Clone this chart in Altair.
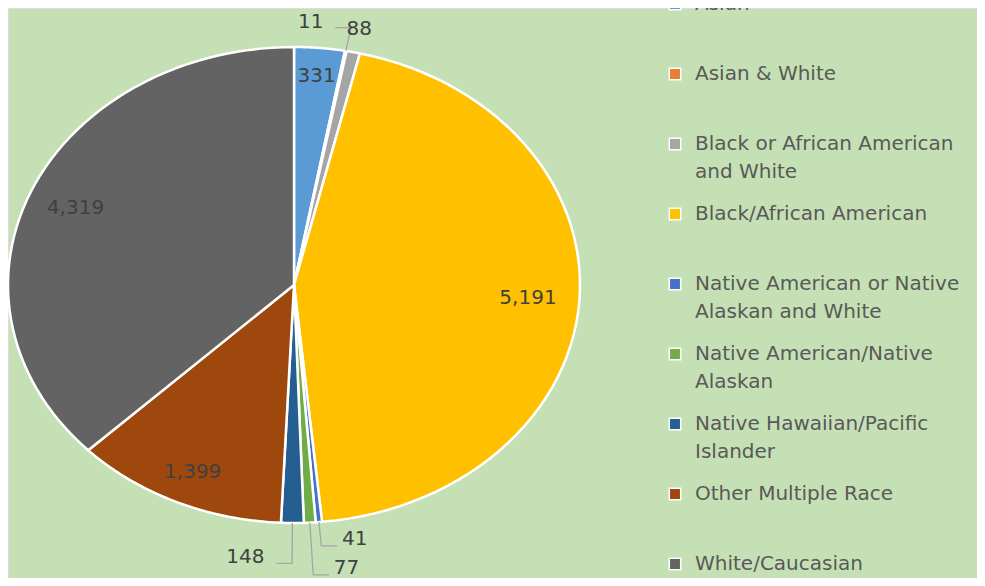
import altair as alt
import pandas as pd

categories = [
    "Asian",
    "Asian & White",
    "Black or African American and White",
    "Black/African American",
    "Native American or Native Alaskan and White",
    "Native American/Native Alaskan",
    "Native Hawaiian/Pacific Islander",
    "Other Multiple Race",
    "White/Caucasian",
]
values = [331, 11, 88, 5191, 41, 77, 148, 1399, 4319]
colors = ["#5B9BD5", "#ED7D31", "#A5A5A5", "#FFC000", "#4472C4",
          "#70AD47", "#255E91", "#9E480E", "#636363"]

# label layout (styling): radius factor, leader direction (0 = none)
label_radius = [0.88, 1.10, 1.10, 0.82, 1.10, 1.22, 1.17, 0.86, 0.83]
leader_dir = [0, -1, 0, 0, 1, 1, -1, 0, 0]

df = pd.DataFrame({
    "category": categories,
    "value": values,
    "idx": list(range(len(categories))),
    "lr": label_radius,
    "dir": leader_dir,
})

BG = "#C5E0B4"
TXT = "#404040"
XS = alt.Scale(domain=[-1, 1], range=[0, 572])
YS = alt.Scale(domain=[-1, 1], range=[515, 39])

base = alt.Chart(df).transform_joinaggregate(
    total="sum(value)"
).transform_window(
    cum="sum(value)", sort=[alt.SortField("idx")], frame=[None, 0]
).transform_calculate(
    a0="2*PI*(datum.cum - datum.value)/datum.total",
    a1="2*PI*datum.cum/datum.total",
    mid="PI*(2*datum.cum - datum.value)/datum.total",
)

legend_labels = (
    "datum.label == 'Black or African American and White' ? ['Black or African American', 'and White'] : "
    "datum.label == 'Native American or Native Alaskan and White' ? ['Native American or Native', 'Alaskan and White'] : "
    "datum.label == 'Native American/Native Alaskan' ? ['Native American/Native', 'Alaskan'] : "
    "datum.label == 'Native Hawaiian/Pacific Islander' ? ['Native Hawaiian/Pacific', 'Islander'] : datum.label"
)

pie = base.transform_calculate(
    k="sequence(0, 62)"
).transform_flatten(["k"]).transform_calculate(
    ang="datum.a0 + (datum.a1 - datum.a0) * min(datum.k, 60) / 60",
    u="datum.k > 60 ? 0 : sin(datum.ang)",
    v="datum.k > 60 ? 0 : cos(datum.ang)",
).mark_line(
    filled=True, interpolate="linear-closed", stroke="white",
    strokeWidth=2.5, strokeJoin="round"
).encode(
    x=alt.X("u:Q", scale=XS, axis=None),
    y=alt.Y("v:Q", scale=YS, axis=None),
    order=alt.Order("k:Q"),
    color=alt.Color(
        "category:N",
        scale=alt.Scale(domain=categories, range=colors),
        sort=categories,
        legend=alt.Legend(
            title=None, orient="none", legendX=657, legendY=-14,
            symbolType="square", symbolSize=130, symbolStrokeColor="white",
            symbolStrokeWidth=1.5, labelFont="DejaVu Sans", labelFontSize=20,
            labelColor="#595959", labelLimit=400, labelExpr=legend_labels,
            gridAlign="all", rowPadding=22, labelOffset=10,
        ),
    ),
)

labels_pos = base.transform_calculate(
    u="datum.lr*sin(datum.mid) + datum.dir*0.065",
    v="datum.lr*cos(datum.mid)",
    lab="format(datum.value, ',')",
)

text_center = labels_pos.transform_filter("datum.dir == 0").mark_text(
    font="DejaVu Sans", fontSize=20, color=TXT, align="center", baseline="middle"
).encode(
    x=alt.X("u:Q", scale=XS, axis=None),
    y=alt.Y("v:Q", scale=YS, axis=None),
    text="lab:N",
)
text_left = labels_pos.transform_filter("datum.dir > 0").mark_text(
    font="DejaVu Sans", fontSize=20, color=TXT, align="left", baseline="middle", dx=2, dy=-7
).encode(
    x=alt.X("u:Q", scale=XS, axis=None),
    y=alt.Y("v:Q", scale=YS, axis=None),
    text="lab:N",
)
text_right = labels_pos.transform_filter("datum.dir < 0").mark_text(
    font="DejaVu Sans", fontSize=20, color=TXT, align="right", baseline="middle", dx=-9, dy=-6
).encode(
    x=alt.X("u:Q", scale=XS, axis=None),
    y=alt.Y("v:Q", scale=YS, axis=None),
    text="lab:N",
)

leaders = base.transform_filter("datum.dir != 0").transform_calculate(
    k="sequence(0, 3)"
).transform_flatten(["k"]).transform_calculate(
    r="datum.k == 0 ? 1.0 : datum.lr",
    u="datum.r*sin(datum.mid) + (datum.k == 2 ? datum.dir*0.055 : 0)",
    v="datum.r*cos(datum.mid)",
).mark_line(color="#A6A6A6", strokeWidth=1.3).encode(
    x=alt.X("u:Q", scale=XS, axis=None),
    y=alt.Y("v:Q", scale=YS, axis=None),
    order=alt.Order("k:Q"),
    detail="category:N",
)

chart = alt.layer(pie, leaders, text_center, text_left, text_right).properties(
    width=969, height=570, background=BG, padding=0,
    autosize=alt.AutoSizeParams(type="none"),
).configure_view(stroke=None).configure(
    style={"guide-label": {"lineHeight": 28}}
)

chart.save("out.html", embed_options={"renderer": "svg", "actions": False})
